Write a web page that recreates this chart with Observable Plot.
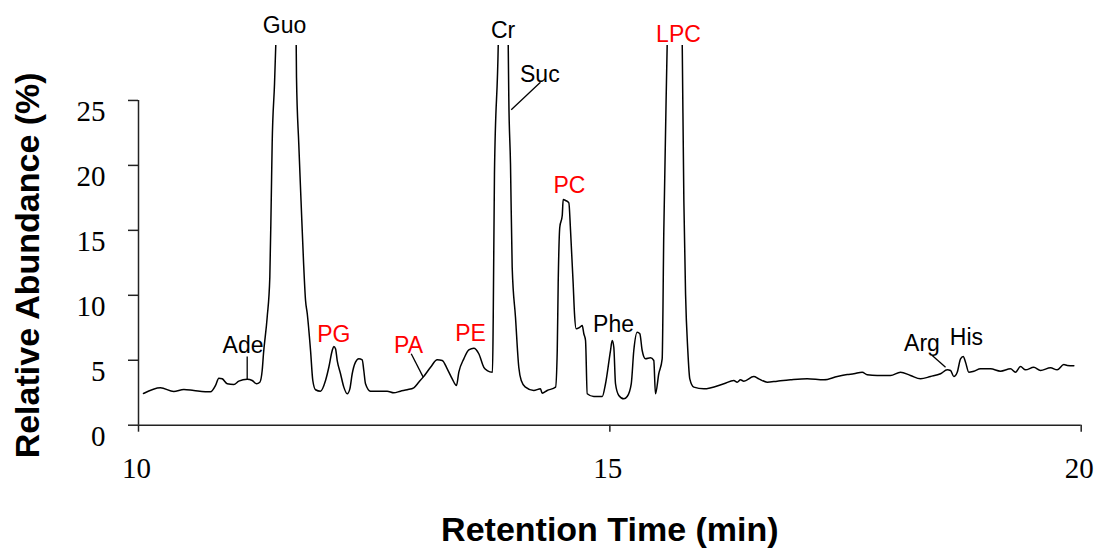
<!DOCTYPE html>
<html><head><meta charset="utf-8">
<script src="https://cdn.jsdelivr.net/npm/d3@7"></script>
<script src="https://cdn.jsdelivr.net/npm/@observablehq/plot@0.6"></script>
<style>
html,body{margin:0;padding:0;background:#fff;}
</style></head><body><div id="chart"></div>
<script>
// Retention time (min) and relative abundance (%)
const time = [10.053,10.233,10.374,10.481,10.587,10.764,10.817,10.852,10.888,10.941,11.011,11.064,11.153,11.206,11.252,11.287,11.312,11.326,11.365,11.393,11.408,11.418,11.443,11.456,11.565,11.673,11.676,11.700,11.724,11.750,11.772,11.790,11.825,11.849,11.878,11.931,11.984,12.019,12.055,12.072,12.090,12.108,12.143,12.178,12.214,12.242,12.267,12.302,12.337,12.373,12.390,12.408,12.461,12.638,12.708,12.779,12.850,12.920,12.973,13.020,13.098,13.169,13.222,13.275,13.328,13.373,13.398,13.451,13.504,13.557,13.610,13.663,13.699,13.755,13.763,13.776,13.816,13.869,13.922,13.928,13.946,13.964,13.999,14.034,14.060,14.105,14.193,14.264,14.282,14.335,14.424,14.442,14.452,14.469,14.495,14.505,14.530,14.565,14.583,14.611,14.625,14.643,14.681,14.707,14.724,14.742,14.760,14.830,14.919,14.954,15.007,15.025,15.042,15.060,15.095,15.148,15.184,15.227,15.254,15.290,15.318,15.343,15.378,15.431,15.466,15.484,15.519,15.555,15.572,15.608,15.688,15.768,15.785,15.803,15.827,15.848,15.891,15.997,16.209,16.315,16.351,16.386,16.421,16.527,16.580,16.669,16.775,16.916,17.094,17.270,17.412,17.518,17.588,17.677,17.730,17.836,17.977,18.083,18.189,18.296,18.402,18.508,18.579,18.614,18.649,18.685,18.720,18.748,18.773,18.808,18.861,18.932,19.038,19.144,19.250,19.303,19.356,19.409,19.497,19.568,19.675,19.745,19.816,19.852,19.922];
const abundance = [2.44,2.88,2.59,2.75,2.67,2.57,3.06,3.62,3.57,3.19,3.13,3.39,3.54,3.44,3.19,3.31,4.21,5.52,8.31,11.39,17.30,21.68,26.30,29.23,60,29.23,26.79,21.68,17.30,12.68,9.60,8.60,5.75,3.44,2.73,2.62,3.44,4.46,5.75,6.06,5.88,4.98,3.96,2.93,2.42,2.80,3.96,4.85,5.11,5.03,4.21,3.19,2.62,2.62,2.49,2.62,2.73,2.88,3.31,3.70,4.46,5.03,4.98,4.34,3.57,3.06,4.08,5.11,5.80,5.93,5.50,4.46,4.21,4.08,8.31,19.38,29.23,60,29.23,25.25,20.15,12.16,8.31,4.46,3.44,2.93,2.67,2.80,2.46,2.67,2.93,5.75,10.91,15.24,16.14,17.37,17.30,17.12,14.99,10.89,8.58,7.42,7.54,7.67,7.04,6.52,2.42,2.21,2.21,3.19,5.75,6.52,6.00,3.19,2.29,2.03,2.21,3.19,5.75,7.16,7.04,5.75,5.11,5.19,4.98,2.42,3.96,5.11,14.76,29.23,60,29.23,17.30,10.12,5.75,3.57,2.93,2.80,3.19,3.44,3.31,3.49,3.39,3.75,3.57,3.31,3.39,3.49,3.57,3.49,3.75,3.90,3.96,4.08,3.88,3.83,3.83,4.08,3.83,3.57,3.75,3.96,4.26,4.21,3.75,4.08,5.11,5.29,4.85,4.08,4.16,4.34,4.34,4.16,4.34,4.08,4.52,4.26,4.46,4.21,4.42,4.26,4.67,4.60,4.57];

// Peak annotations
const peakNames   = ["Guo","Ade","PG","PA","PE","Cr","Suc","PC","Phe","LPC","Arg","His"];
const peakLabelT  = [11.549,11.109,12.072,12.864,13.522,13.867,14.257,14.572,15.039,15.728,18.311,18.783];
const peakLabelA  = [30.23,5.52,6.44,5.52,6.52,29.77,26.40,17.87,7.16,29.50,5.75,6.14];
const lipidClasses = ["PG","PA","PE","PC","LPC"];

// Leader lines from label to peak
const leaderNames = ["Ade","PA","Suc","Arg"];
const leaderT1 = [11.153,12.893,14.264,18.420];
const leaderA1 = [5.29,5.50,26.40,5.37];
const leaderT2 = [11.153,13.020,13.954,18.561];
const leaderA2 = [3.54,3.70,24.28,4.46];

// Axes
const xTicks = [10,15,20];
const yTicks = [0,5,10,15,20,25];
const xTitle = "Retention Time (min)";
const yTitle = "Relative Abundance (%)";

const series = time.map((t,i)=>({t, a: abundance[i]}));
const labels = peakNames.map((n,i)=>({name:n, t:peakLabelT[i], a:peakLabelA[i], lipid: lipidClasses.includes(n)}));
const leaders = leaderNames.map((n,i)=>({name:n, t1:leaderT1[i], a1:leaderA1[i], t2:leaderT2[i], a2:leaderA2[i]}));

const serif = "'Liberation Serif','Times New Roman',serif";
const sans = "'Liberation Sans',Arial,sans-serif";

const chart = Plot.plot({
  width: 1098, height: 548,
  marginTop: 45, marginBottom: 123.3, marginLeft: 138, marginRight: 17.3,
  x: {domain: [10, 20]},
  y: {domain: [0, 29.23]},
  style: {fontFamily: sans, background: "#fff", color: "#000", overflow: "visible"},
  marks: [
    Plot.axisX({ticks: xTicks, tickSize: 7, tickFormat: () => "", label: null, strokeWidth: 1.5, stroke: "#222"}),
    Plot.axisY({ticks: yTicks, tickSize: 10, tickFormat: () => "", label: null, strokeWidth: 1.5, stroke: "#222"}),
    Plot.ruleY([0], {stroke: "#222", strokeWidth: 1.5}),
    Plot.ruleX([10], {y1: 0, y2: 25, stroke: "#222", strokeWidth: 1.5}),
    Plot.text(xTicks, {x: d => d, frameAnchor: "bottom", dy: 52.3, dx: -2, lineAnchor: "bottom", textAnchor: "middle", text: d => String(d), fontSize: 29, fontFamily: serif, fill: "#000"}),
    Plot.text(yTicks, {y: d => d, frameAnchor: "left", dx: -33, dy: 11.5, textAnchor: "end", text: d => String(d), fontSize: 29, fontFamily: serif, fill: "#000"}),
    Plot.line(series, {x: "t", y: "a", stroke: "#000", strokeWidth: 1.5, curve: "monotone-x", clip: true}),
    Plot.link(leaders, {x1: "t1", y1: "a1", x2: "t2", y2: "a2", stroke: "#000", strokeWidth: 1.3}),
    Plot.text(labels.filter(d => !d.lipid), {x: "t", y: "a", text: "name", lineAnchor: "bottom", fontSize: 23, fill: "#000", fontFamily: sans}),
    Plot.text(labels.filter(d => d.lipid), {x: "t", y: "a", text: "name", lineAnchor: "bottom", fontSize: 23, fill: "#ff0000", fontFamily: sans}),
    Plot.text([xTitle], {frameAnchor: "bottom", dy: 115.3, lineAnchor: "bottom", textAnchor: "middle", fontSize: 34, fontWeight: "bold", fontFamily: sans, fill: "#000"}),
    Plot.text([yTitle], {frameAnchor: "left", dx: -100, dy: 30, rotate: -90, lineAnchor: "bottom", textAnchor: "middle", fontSize: 34, fontWeight: "bold", fontFamily: sans, fill: "#000"})
  ]
});
document.getElementById("chart").appendChild(chart);
</script></body></html>
